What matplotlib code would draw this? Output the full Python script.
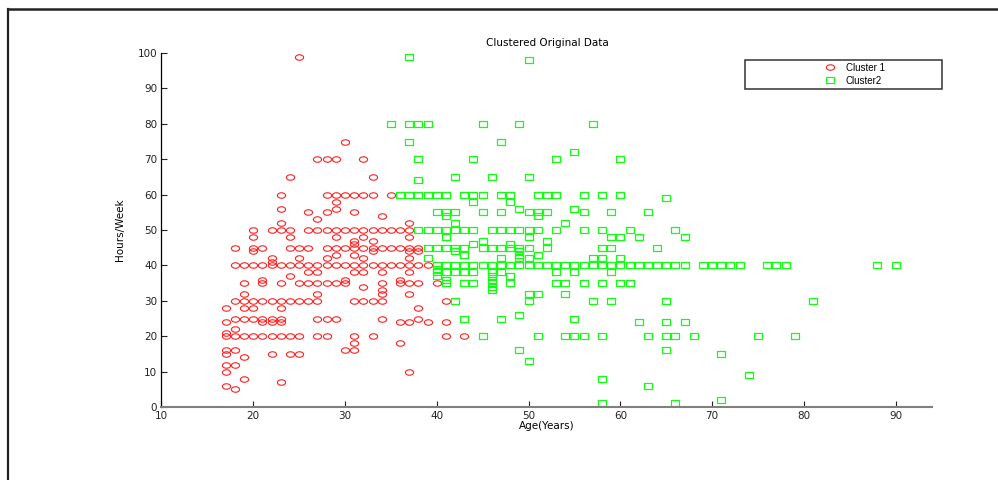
import matplotlib
matplotlib.use("Agg")
import matplotlib.pyplot as plt
from matplotlib.path import Path
from matplotlib.patches import Rectangle
from matplotlib.lines import Line2D

plt.rcParams['font.family'] = ['DejaVu Sans']

# (age, hours/week) pairs
cluster1 = [
    (25, 99), (30, 75),
    (27, 70), (28, 70), (29, 70), (32, 70),
    (24, 65), (33, 65),
    (23, 60), (28, 60), (29, 60), (30, 60), (31, 60), (32, 60), (33, 60), (35, 60),
    (29, 58), (23, 56), (29, 56), (26, 55), (28, 55), (31, 55), (34, 54), (27, 53),
    (23, 52), (37, 52),
    (20, 50), (22, 50), (23, 50), (24, 50), (26, 50), (27, 50), (28, 50), (29, 50),
    (30, 50), (31, 50), (32, 50), (33, 50), (34, 50), (35, 50), (36, 50), (37, 50),
    (20, 48), (24, 48), (29, 48), (32, 48), (37, 48),
    (31, 47), (33, 47), (31, 46),
    (18, 45), (20, 45), (21, 45), (24, 45), (25, 45), (26, 45), (28, 45), (29, 45),
    (30, 45), (31, 45), (32, 45), (33, 45), (34, 45), (35, 45), (36, 45), (37, 45), (38, 45),
    (20, 44), (33, 44), (37, 44), (38, 44),
    (29, 43), (31, 43),
    (22, 42), (25, 42), (28, 42), (32, 42), (37, 42), (22, 41),
    (18, 40), (19, 40), (20, 40), (21, 40), (22, 40), (23, 40), (24, 40), (25, 40),
    (26, 40), (27, 40), (28, 40), (29, 40), (30, 40), (31, 40), (32, 40), (33, 40),
    (34, 40), (35, 40), (36, 40), (37, 40), (38, 40), (39, 40),
    (26, 38), (27, 38), (31, 38), (32, 38), (34, 38), (37, 38),
    (24, 37), (21, 36), (30, 36), (36, 36),
    (19, 35), (21, 35), (23, 35), (25, 35), (26, 35), (27, 35), (28, 35), (29, 35),
    (30, 35), (34, 35), (36, 35), (37, 35), (38, 35), (40, 35),
    (32, 34), (34, 33),
    (19, 32), (27, 32), (34, 32), (37, 32),
    (18, 30), (19, 30), (20, 30), (21, 30), (22, 30), (23, 30), (24, 30), (25, 30),
    (26, 30), (27, 30), (31, 30), (32, 30), (33, 30), (34, 30), (41, 30),
    (17, 28), (19, 28), (20, 28), (23, 28), (38, 28),
    (18, 25), (19, 25), (20, 25), (21, 25), (22, 25), (23, 25), (27, 25), (28, 25),
    (29, 25), (34, 25), (38, 25),
    (17, 24), (21, 24), (22, 24), (23, 24), (36, 24), (37, 24), (39, 24), (41, 24),
    (18, 22), (17, 21),
    (17, 20), (18, 20), (19, 20), (20, 20), (21, 20), (22, 20), (23, 20), (24, 20),
    (25, 20), (27, 20), (28, 20), (31, 20), (33, 20), (41, 20), (43, 20),
    (31, 18), (36, 18),
    (17, 16), (18, 16), (30, 16), (31, 16),
    (17, 15), (22, 15), (24, 15), (25, 15),
    (19, 14), (17, 12), (18, 12), (17, 10), (37, 10), (19, 8), (23, 7), (17, 6), (18, 5),
]

cluster2 = [
    (37, 99), (50, 98),
    (35, 80), (37, 80), (38, 80), (39, 80), (45, 80), (49, 80), (57, 80),
    (37, 75), (47, 75), (55, 72),
    (38, 70), (44, 70), (53, 70), (60, 70),
    (42, 65), (46, 65), (50, 65), (38, 64),
    (36, 60), (37, 60), (38, 60), (39, 60), (40, 60), (41, 60), (43, 60), (44, 60),
    (45, 60), (47, 60), (48, 60), (51, 60), (52, 60), (53, 60), (56, 60), (58, 60), (60, 60),
    (65, 59), (44, 58), (48, 58), (49, 56), (55, 56),
    (40, 55), (41, 55), (42, 55), (45, 55), (47, 55), (50, 55), (51, 55), (52, 55),
    (56, 55), (59, 55), (63, 55),
    (41, 54), (51, 54), (42, 52), (54, 52),
    (38, 50), (39, 50), (40, 50), (41, 50), (42, 50), (43, 50), (44, 50), (46, 50),
    (47, 50), (48, 50), (49, 50), (50, 50), (51, 50), (53, 50), (56, 50), (58, 50),
    (61, 50), (66, 50),
    (41, 48), (50, 48), (59, 48), (60, 48), (62, 48), (67, 48),
    (45, 47), (52, 47), (44, 46), (48, 46),
    (39, 45), (40, 45), (41, 45), (42, 45), (43, 45), (45, 45), (46, 45), (47, 45),
    (48, 45), (49, 45), (50, 45), (52, 45), (58, 45), (59, 45), (64, 45),
    (42, 44), (49, 44), (43, 43), (49, 43), (51, 43),
    (39, 42), (47, 42), (49, 42), (50, 42), (57, 42), (58, 42), (60, 42),
    (40, 40), (41, 40), (42, 40), (43, 40), (44, 40), (45, 40), (46, 40), (47, 40),
    (48, 40), (49, 40), (50, 40), (51, 40), (52, 40), (53, 40), (54, 40), (55, 40),
    (56, 40), (57, 40), (58, 40), (59, 40), (60, 40), (61, 40), (62, 40), (63, 40),
    (64, 40), (65, 40), (66, 40), (67, 40), (69, 40), (70, 40), (71, 40), (72, 40),
    (73, 40), (76, 40), (77, 40), (78, 40), (88, 40), (90, 40),
    (40, 39),
    (40, 38), (41, 38), (42, 38), (43, 38), (44, 38), (46, 38), (47, 38), (53, 38),
    (55, 38), (59, 38),
    (40, 37), (46, 37), (48, 37), (41, 36), (46, 36),
    (41, 35), (43, 35), (44, 35), (46, 35), (48, 35), (53, 35), (54, 35), (56, 35),
    (58, 35), (60, 35), (61, 35),
    (46, 34), (46, 33), (50, 32), (51, 32), (54, 32),
    (42, 30), (50, 30), (57, 30), (59, 30), (65, 30), (81, 30),
    (49, 26), (43, 25), (47, 25), (55, 25),
    (62, 24), (65, 24), (67, 24),
    (45, 20), (51, 20), (54, 20), (55, 20), (56, 20), (58, 20), (63, 20), (65, 20),
    (66, 20), (68, 20), (75, 20), (79, 20),
    (49, 16), (65, 16), (71, 15), (50, 13), (74, 9), (58, 8), (63, 6), (71, 2),
    (58, 1), (66, 1),
]

x_ticks = [10, 20, 30, 40, 50, 60, 70, 80, 90]
y_ticks = [0, 10, 20, 30, 40, 50, 60, 70, 80, 90, 100]

W, H = 998, 480
fig = plt.figure(figsize=(W / 100, H / 100), dpi=100)
ax = fig.add_axes([161.4 / W, 1 - 407 / H, 771 / W, 354 / H])

# the original markers are wider than tall
circ = Path.unit_circle()
ellipse = Path(circ.vertices * [1.5, 1.0], circ.codes)
box = Path([(-1.45, -1), (1.45, -1), (1.45, 1), (-1.45, 1), (-1.45, -1)], closed=True)

a1, h1 = zip(*cluster1)
a2, h2 = zip(*cluster2)
ax.plot(a1, h1, ls='none', marker=ellipse, ms=5.9, mfc='none', mec='#ff2020',
        mew=0.8, label='Cluster 1')
ax.plot(a2, h2, ls='none', marker=box, ms=6.2, mfc='none', mec='#10ff10',
        mew=0.9, label='Cluster2')

ax.set_xlim(10, 94)
ax.set_ylim(0, 100)
ax.set_xticks(x_ticks)
ax.set_yticks(y_ticks)
ax.spines['top'].set_visible(False)
ax.spines['right'].set_visible(False)
ax.spines['bottom'].set_color('#808080')
ax.spines['bottom'].set_linewidth(1.5)
ax.spines['left'].set_color('black')
ax.spines['left'].set_linewidth(0.9)
ax.tick_params(direction='in', length=4, width=0.8, labelsize=7.5, colors='#222222', pad=3)

ax.set_title('Clustered Original Data', fontsize=7.5, pad=5)
ax.set_xlabel('Age(Years)', fontsize=7.5)
ax.set_ylabel('Hours/Week', fontsize=7.5)
ax.xaxis.set_label_coords(0.5, -0.04)
ax.yaxis.set_label_coords(-0.047, 0.5)

ax.legend(loc='upper left', bbox_to_anchor=(820 / W, 1 - 58 / H),
          bbox_transform=fig.transFigure, frameon=False,
          prop={'family': 'Liberation Sans', 'size': 7},
          borderpad=0, handlelength=1.0, handletextpad=1.15, labelspacing=0.3)
fig.add_artist(Rectangle((745 / W, 1 - 89 / H), 197 / W, 29 / H, transform=fig.transFigure,
                         fill=False, edgecolor='#333333', linewidth=1.1))

# outer frame of the original figure window
fig.add_artist(Line2D([8 / W, 8 / W], [1 - 9 / H, 0], transform=fig.transFigure,
                      color='#222222', linewidth=1.6))
fig.add_artist(Line2D([8 / W, 1], [1 - 9 / H, 1 - 9 / H], transform=fig.transFigure,
                      color='#222222', linewidth=1.8))

fig.savefig('out.png', dpi=100)
